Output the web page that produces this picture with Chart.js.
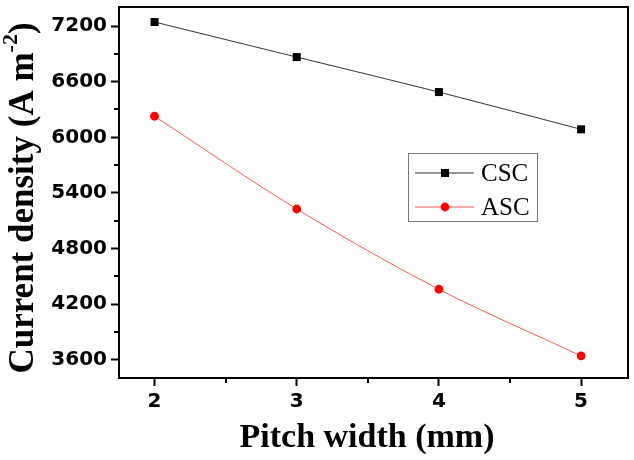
<!DOCTYPE html>
<html>
<head>
<meta charset="utf-8">
<script src="https://cdn.jsdelivr.net/npm/chart.js@4"></script>
<style>
  html, body { margin: 0; padding: 0; background: #fff; }
  #wrap { width: 634px; height: 460px; }
</style>
</head>
<body>
<div id="wrap"><canvas id="grafico"></canvas></div>
<script>
// dados
const pitchWidth = [2, 3, 4, 5];
const cscValues = [7243, 6865, 6488, 6086];
const ascValues = [6227, 5227, 4362, 3643];
const seriesNames = ['CSC', 'ASC'];
const yTicks = [3600, 3900, 4200, 4500, 4800, 5100, 5400, 5700, 6000, 6300, 6600, 6900, 7200];
const yMajor = [3600, 4200, 4800, 5400, 6000, 6600, 7200];
const xTicks = [2, 2.5, 3, 3.5, 4, 4.5, 5];
const xMajor = [2, 3, 4, 5];
const xTitle = 'Pitch width (mm)';
const yTitle = 'Current density (A m';
const yTitleSup = '-2';

const serif = "'Liberation Serif', 'Times New Roman', serif";
const tickFont = { family: "'DejaVu Sans', sans-serif", size: 20, weight: 'bold' };

const toPoints = vals => vals.map((v, i) => ({ x: pitchWidth[i], y: v }));

// moldura, ticks menores, titulos e legenda
const extras = {
  id: 'extras',
  afterDraw(chart) {
    const ctx = chart.ctx;
    const a = chart.chartArea;
    const xs = chart.scales.x, ys = chart.scales.y;
    ctx.save();
    ctx.strokeStyle = '#000';
    ctx.lineWidth = 2;
    ctx.beginPath();
    ctx.moveTo(a.left, a.top);
    ctx.lineTo(a.right, a.top);
    ctx.lineTo(a.right, a.bottom);
    ctx.stroke();

    // ticks menores
    ctx.beginPath();
    yTicks.filter(v => !yMajor.includes(v)).forEach(v => {
      const p = Math.round(ys.getPixelForValue(v));
      ctx.moveTo(a.left - 5, p);
      ctx.lineTo(a.left, p);
    });
    xTicks.filter(v => !xMajor.includes(v)).forEach(v => {
      const p = Math.round(xs.getPixelForValue(v));
      ctx.moveTo(p, a.bottom);
      ctx.lineTo(p, a.bottom + 5);
    });
    ctx.stroke();

    // titulo eixo x
    ctx.fillStyle = '#000';
    ctx.font = 'bold 34px ' + serif;
    ctx.textAlign = 'center';
    ctx.textBaseline = 'alphabetic';
    ctx.fillText(xTitle, 367, 447);

    // titulo eixo y com sobrescrito
    ctx.save();
    ctx.translate(33, 198);
    ctx.rotate(-Math.PI / 2);
    ctx.textAlign = 'left';
    const fMain = 'bold 35px ' + serif;
    const fSup = 'bold 22px ' + serif;
    ctx.font = fMain;
    const w1 = ctx.measureText(yTitle).width;
    const w3 = ctx.measureText(')').width;
    ctx.font = fSup;
    const w2 = ctx.measureText(yTitleSup).width;
    let x0 = -(w1 + w2 + w3) / 2;
    ctx.font = fMain;
    ctx.fillText(yTitle, x0, 0);
    ctx.font = fSup;
    ctx.fillText(yTitleSup, x0 + w1, -16);
    ctx.font = fMain;
    ctx.fillText(')', x0 + w1 + w2, 0);
    ctx.restore();

    // legenda
    ctx.strokeStyle = '#777';
    ctx.lineWidth = 1;
    ctx.strokeRect(408.5, 153.5, 129, 68);
    const linhasY = [173, 207];
    chart.data.datasets.forEach((ds, i) => {
      const y = linhasY[i];
      ctx.strokeStyle = ds.borderColor;
      ctx.lineWidth = 1;
      ctx.beginPath();
      ctx.moveTo(415, y);
      ctx.lineTo(474, y);
      ctx.stroke();
      ctx.fillStyle = ds.pointBackgroundColor;
      if (ds.pointStyle === 'rect') {
        ctx.fillRect(441, y - 4, 8, 8);
      } else {
        ctx.beginPath();
        ctx.arc(445, y, 4.4, 0, Math.PI * 2);
        ctx.fill();
      }
      ctx.fillStyle = '#000';
      ctx.font = '25px ' + serif;
      ctx.textAlign = 'left';
      ctx.textBaseline = 'middle';
      ctx.fillText(ds.label, 481, y + 1);
    });
    ctx.restore();
  }
};

new Chart(document.getElementById('grafico'), {
  type: 'scatter',
  data: {
    datasets: [
      {
        label: seriesNames[0],
        data: toPoints(cscValues),
        showLine: true,
        borderColor: '#333',
        borderWidth: 1,
        pointStyle: 'rect',
        pointRadius: 5.66,
        pointBackgroundColor: '#000',
        pointBorderWidth: 0,
        cubicInterpolationMode: 'monotone'
      },
      {
        label: seriesNames[1],
        data: toPoints(ascValues),
        showLine: true,
        borderColor: 'rgba(240,60,60,0.85)',
        borderWidth: 1,
        pointStyle: 'circle',
        pointRadius: 4.4,
        pointBackgroundColor: '#ff0000',
        pointBorderWidth: 0,
        cubicInterpolationMode: 'monotone'
      }
    ]
  },
  options: {
    responsive: true,
    maintainAspectRatio: false,
    animation: false,
    layout: { padding: { left: 0, right: 6, top: 0, bottom: 0 } },
    plugins: { legend: { display: false }, tooltip: { enabled: false } },
    scales: {
      x: {
        type: 'linear',
        min: 1.75,
        max: 5.33,
        afterBuildTicks: s => { s.ticks = xTicks.map(v => ({ value: v })); },
        afterFit: s => { s.height = 82; s.paddingRight = 0; s.paddingLeft = 0; },
        grid: {
          drawOnChartArea: false,
          tickLength: 8,
          tickWidth: 2,
          tickColor: c => (xMajor.includes(c.tick && c.tick.value) ? '#000' : 'rgba(0,0,0,0)')
        },
        border: { color: '#000', width: 2 },
        ticks: {
          color: '#000',
          font: tickFont,
          padding: 4,
          maxRotation: 0,
          autoSkip: false,
          callback: v => (xMajor.includes(v) ? String(v) : '')
        }
      },
      y: {
        type: 'linear',
        min: 3405,
        max: 7405,
        afterBuildTicks: s => { s.ticks = yTicks.map(v => ({ value: v })); },
        afterFit: s => { s.width = 119; s.paddingTop = 7; s.paddingBottom = 0; },
        grid: {
          drawOnChartArea: false,
          tickLength: 8,
          tickWidth: 2,
          tickColor: c => (yMajor.includes(c.tick && c.tick.value) ? '#000' : 'rgba(0,0,0,0)')
        },
        border: { color: '#000', width: 2 },
        ticks: {
          color: '#000',
          font: tickFont,
          padding: 4,
          autoSkip: false,
          callback: v => (yMajor.includes(v) ? String(v) : '')
        }
      }
    }
  },
  plugins: [extras]
});
</script>
</body>
</html>
